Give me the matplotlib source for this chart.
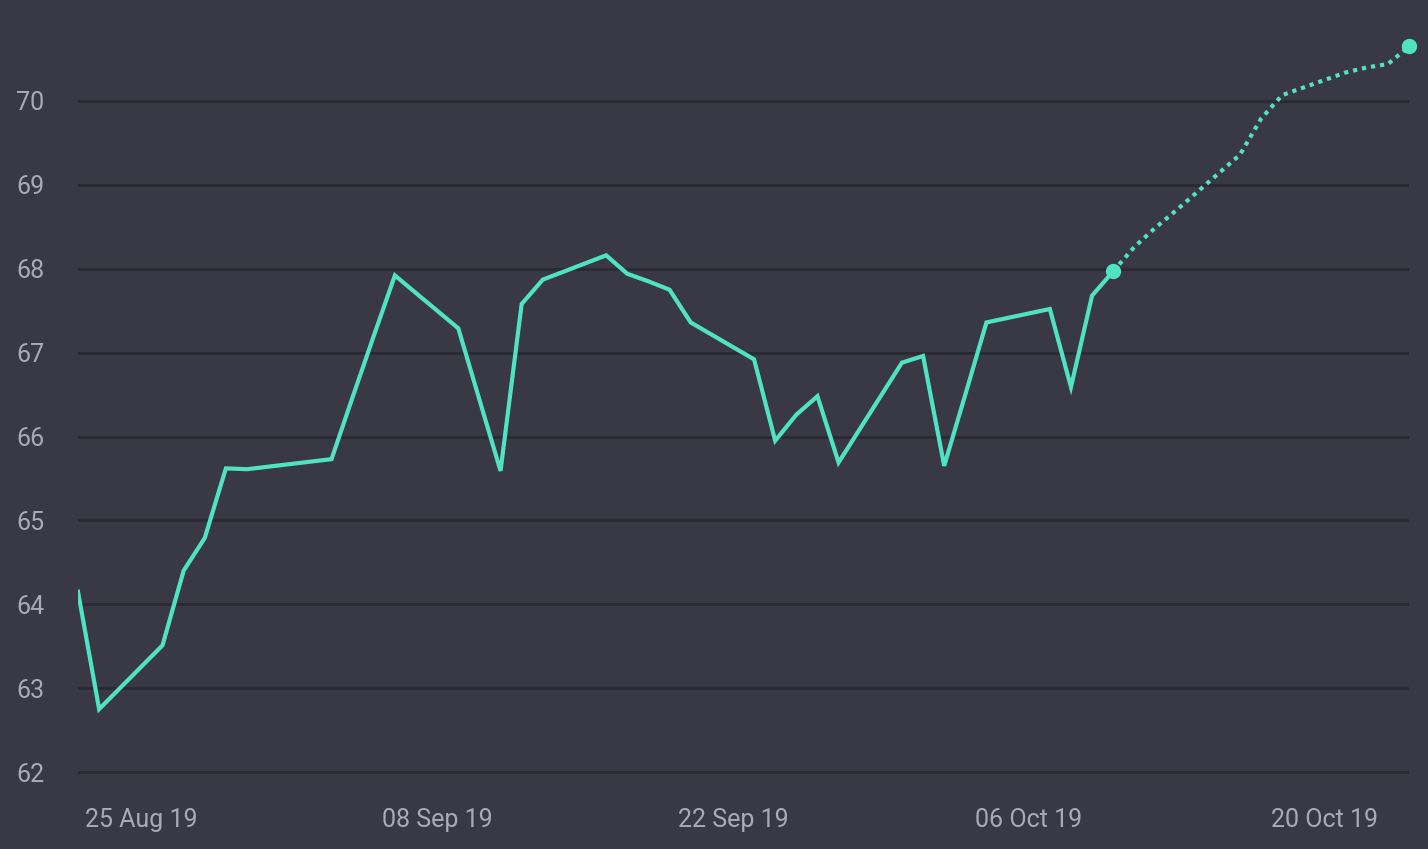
import matplotlib
matplotlib.use("Agg")
import matplotlib.pyplot as plt
import matplotlib.dates as mdates
import pandas as pd

# ---- data ----
hist_dates = ["2019-08-22", "2019-08-23", "2019-08-26", "2019-08-27", "2019-08-28",
              "2019-08-29", "2019-08-30", "2019-09-03", "2019-09-04", "2019-09-05",
              "2019-09-06", "2019-09-09", "2019-09-10", "2019-09-11", "2019-09-12",
              "2019-09-13", "2019-09-16", "2019-09-17", "2019-09-18", "2019-09-19",
              "2019-09-20", "2019-09-23", "2019-09-24", "2019-09-25", "2019-09-26",
              "2019-09-27", "2019-09-30", "2019-10-01", "2019-10-02", "2019-10-03",
              "2019-10-04", "2019-10-07", "2019-10-08", "2019-10-09", "2019-10-10"]
hist_values = [64.15, 62.75, 63.51, 64.40, 64.79,
               65.62, 65.61, 65.73, 66.47, 67.20,
               67.92, 67.29, 66.44, 65.59, 67.58,
               67.87, 68.16, 67.94, 67.85, 67.75,
               67.36, 66.92, 65.95, 66.26, 66.48,
               65.69, 66.88, 66.96, 65.65, 66.50,
               67.36, 67.52, 66.59, 67.68, 67.97]

fc_dates = ["2019-10-10", "2019-10-11", "2019-10-12", "2019-10-13", "2019-10-14",
            "2019-10-15", "2019-10-16", "2019-10-17", "2019-10-18", "2019-10-19",
            "2019-10-20", "2019-10-21", "2019-10-22", "2019-10-23", "2019-10-24"]
fc_values = [67.97, 68.26, 68.49, 68.70, 68.92,
             69.14, 69.36, 69.79, 70.07, 70.16,
             70.25, 70.34, 70.40, 70.44, 70.65]

y_ticks = [62, 63, 64, 65, 66, 67, 68, 69, 70]
x_tick_dates = ["2019-08-25", "2019-09-08", "2019-09-22", "2019-10-06", "2019-10-20"]

# ---- style ----
BG = "#393945"
GRID = "#2a2a33"
LINE = "#50e3c2"
TXT = "#a9a9b9"
FONT = ["Roboto", "DejaVu Sans"]

hd = pd.to_datetime(hist_dates)
fd = pd.to_datetime(fc_dates)

fig = plt.figure(figsize=(14.28, 8.49), dpi=100, facecolor=BG)
ax = fig.add_axes([78 / 1428, (849 - 790) / 849, (1409 - 78) / 1428, (790 - 20) / 849])
ax.set_facecolor(BG)

ax.plot(hd, hist_values, color=LINE, lw=3.0, solid_joinstyle="miter", zorder=3)
ax.plot(fd, fc_values, color=LINE, lw=3.0, linestyle=(0, (1, 1.2)), zorder=3)
ax.plot([fd[0], fd[-1]], [fc_values[0], fc_values[-1]], "o", color=LINE,
        markersize=10, clip_on=False, zorder=4)

ax.set_xlim(pd.Timestamp("2019-08-22"), pd.Timestamp("2019-10-24"))
ax.set_ylim(62 - 18 / 83.875, 62 + 752 / 83.875)

ax.set_yticks(y_ticks)
ax.set_xticks(pd.to_datetime(x_tick_dates))
ax.xaxis.set_major_formatter(mdates.DateFormatter("%d %b %y"))

ax.grid(axis="y", color=GRID, lw=2)
ax.grid(axis="x", visible=False)
ax.set_axisbelow(True)
for s in ax.spines.values():
    s.set_visible(False)

ax.tick_params(axis="both", length=0, colors=TXT, labelsize=18)
ax.tick_params(axis="y", pad=44.6)
ax.tick_params(axis="x", pad=13)
for lab in ax.get_yticklabels():
    lab.set_horizontalalignment("left")
    lab.set_family(FONT)
for lab in ax.get_xticklabels():
    lab.set_family(FONT)

fig.savefig("out.png", dpi=100, facecolor=BG)
